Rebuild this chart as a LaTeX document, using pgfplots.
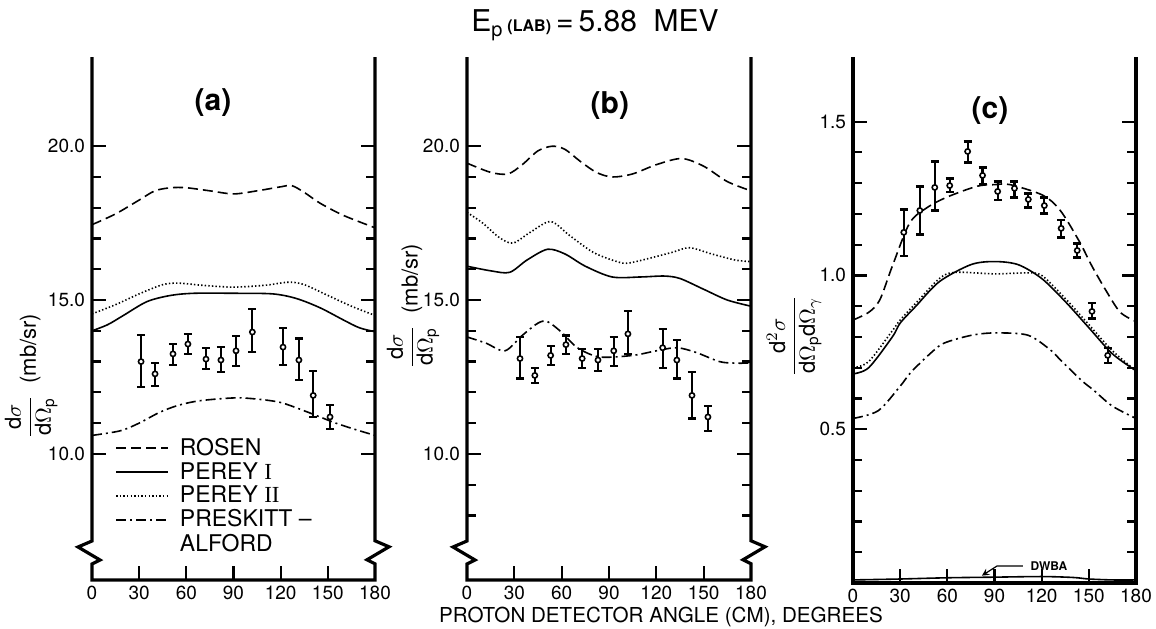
\documentclass[border=0pt]{standalone}
\usepackage{fontspec}
\setmainfont{TeX Gyre Heros}
\newfontfamily\numeral{Liberation Serif}
\usepackage{pgfplots}
\usepackage{pgfplotstable}
\pgfplotsset{compat=1.18}

% experimental points: angle, value, error up, error down
\pgfplotstableread{
x     y     ep    em
31.2  13.00 0.86  0.82
40.1  12.60 0.35  0.40
51.5  13.25 0.32  0.35
61.0  13.57 0.33  0.32
72.5  13.08 0.37  0.32
82.0  13.05 0.42  0.39
91.6  13.35 0.48  0.49
102.0 13.96 0.74  0.66
121.5 13.47 0.63  0.57
131.6 13.05 0.70  0.65
140.7 11.90 0.80  0.70
151.4 11.20 0.40  0.40
}\dataA

\pgfplotstableread{
x     y     ep    em
33.6  13.10 0.70  0.65
43.0  12.55 0.25  0.25
53.0  13.20 0.30  0.30
62.7  13.55 0.30  0.30
73.0  13.10 0.30  0.30
83.0  13.05 0.35  0.35
93.0  13.35 0.45  0.50
102.0 13.90 0.75  0.65
124.0 13.45 0.60  0.65
133.0 13.05 0.65  0.60
142.6 11.90 0.75  0.75
152.7 11.20 0.35  0.45
}\dataB

\pgfplotstableread{
x     y     ep    em
32.3  1.140 0.074 0.078
42.5  1.211 0.078 0.078
52.0  1.286 0.084 0.075
61.5  1.292 0.023 0.022
72.9  1.403 0.032 0.036
82.4  1.325 0.026 0.029
92.0  1.273 0.032 0.029
102.7 1.283 0.022 0.030
111.5 1.247 0.019 0.026
121.7 1.227 0.026 0.026
132.4 1.153 0.026 0.030
142.6 1.081 0.023 0.023
152.0 0.883 0.026 0.023
162.0 0.740 0.023 0.026
}\dataC

\pgfplotsset{
  panel/.style={
    scale only axis, anchor=south west,
    xmin=0, xmax=180, xtick={0,30,...,180},
    xtick pos=left, ytick pos=both, tick align=inside,
    major tick length=7pt, minor tick length=4.5pt,
    every tick/.append style={line width=1.1pt, black},
    axis line style={draw=none},
    tick label style={font=\fontsize{9.5}{9.5}\selectfont},
    xticklabel style={inner sep=0.5pt, yshift=-2.3pt},
    /pgf/number format/assume math mode=true,
    clip=false,
    label style={font=\fontsize{11}{11}\selectfont},
  },
  rosen/.style={black, line width=0.8pt, dash pattern=on 5pt off 2.5pt, smooth},
  pereyI/.style={black, line width=0.8pt, smooth},
  pereyII/.style={black, line width=0.8pt, dash pattern=on 0.7pt off 1.1pt, smooth},
  preskitt/.style={black, line width=0.8pt, dash pattern=on 5pt off 2pt on 1pt off 2pt, smooth},
  exp/.style={black, only marks, mark=*, mark size=1.3pt,
    mark options={line width=0.8pt, fill=white, draw=black},
    error bars/y dir=both, error bars/y explicit,
    error bars/error bar style={line width=1.1pt},
    error bars/error mark options={rotate=90, mark size=2pt, line width=1.1pt}},
}

\newcommand\brokenframe{%
  \draw[line width=1.6pt] (rel axis cs:0,1) -- (rel axis cs:0,0.0746)
    -- ++(-7pt,-3pt) -- ++(11pt,-6.5pt) -- ++(-4pt,-2pt)
    -- (rel axis cs:0,0) -- (rel axis cs:1,0) -- (rel axis cs:1,0.031)
    -- ++(-4pt,2pt) -- ++(11pt,6.5pt) -- ++(-7pt,3pt) -- (rel axis cs:1,1);}

\begin{document}
\begin{tikzpicture}
\useasboundingbox (0,0) rectangle (578pt,314pt);

% ---------------- (a)
\begin{axis}[panel, at={(46pt,24pt)}, width=141.5pt, height=261.5pt,
  ymin=5.9, ymax=22.9, ytick={10,15,20}, yticklabels={10.0,15.0,20.0},
  minor ytick={11,12,13,14,16,17,18,19},
  ylabel={$\displaystyle\frac{\mathrm{d}\sigma}{\mathrm{d}\Omega_{\mathrm{p}}}$\ \ (mb/sr)},
  ylabel style={at={(axis description cs:-0.215,0.39)}, anchor=center},
  legend style={draw=none, fill=none, at={(axis description cs:0.081,0.276)},
    anchor=north west, inner sep=0pt, row sep=0pt, column sep=4.5pt,
    font=\fontsize{11.5}{11.5}\selectfont, nodes={inner sep=1pt}},
  legend cell align=left,
  legend image code/.code={\draw[#1] (0pt,0pt) -- (26pt,0pt);},
]
\addplot[rosen] coordinates {(0,17.45)(15,17.8)(30,18.25)(40,18.55)(50,18.65)(60,18.65)(75,18.55)(90,18.45)(105,18.55)(120,18.68)(127,18.72)(135,18.5)(145,18.15)(160,17.75)(180,17.35)};
\addlegendentry{ROSEN}
\addplot[pereyI] coordinates {(0,14.0)(10,14.2)(20,14.5)(35,14.95)(50,15.15)(65,15.22)(90,15.22)(115,15.2)(130,15.05)(145,14.75)(160,14.35)(170,14.1)(180,13.97)};
\addlegendentry{PEREY {\numeral I}}
\addplot[pereyII] coordinates {(0,14.55)(15,14.85)(30,15.2)(45,15.5)(55,15.55)(70,15.48)(90,15.42)(110,15.48)(125,15.58)(135,15.5)(150,15.15)(165,14.8)(180,14.5)};
\addlegendentry{PEREY {\numeral II}}
\addplot[preskitt] coordinates {(0,10.6)(18,10.75)(30,11.0)(43,11.35)(55,11.58)(69,11.73)(91,11.82)(105,11.78)(120,11.67)(135,11.4)(145,11.2)(155,11.0)(167,10.8)(180,10.6)};
\addlegendentry{PRESKITT --}
\addlegendimage{empty legend}
\addlegendentry{\raisebox{-3.5pt}{ALFORD}}
\addplot[forget plot, exp] table[x=x, y=y, y error plus=ep, y error minus=em] {\dataA};
\brokenframe
\node[font=\fontsize{15}{15}\selectfont\bfseries] at (axis description cs:0.4276,0.912) {(a)};
\end{axis}

% ---------------- (b)
\begin{axis}[panel, at={(233.5pt,24pt)}, width=142pt, height=261.5pt,
  ymin=5.9, ymax=22.9, ytick={10,15,20}, yticklabels={10.0,15.0,20.0},
  minor ytick={8,9,11,12,13,14,16,17,18,19},
  ylabel={$\displaystyle\frac{\mathrm{d}\sigma}{\mathrm{d}\Omega_{\mathrm{p}}}$\ \ (mb/sr)},
  ylabel style={at={(axis description cs:-0.19,0.524)}, anchor=center},
]
\addplot[rosen] coordinates {(0,19.45)(15,19.15)(26,19.1)(35,19.4)(45,19.85)(54,20.0)(62,19.9)(72,19.5)(82,19.15)(92,19.0)(105,19.1)(120,19.4)(136,19.6)(150,19.35)(165,18.85)(180,18.55)};
\addplot[pereyII] coordinates {(0,17.85)(10,17.5)(20,17.05)(29,16.85)(40,17.2)(53,17.55)(65,17.1)(80,16.55)(95,16.25)(102,16.2)(115,16.35)(130,16.55)(141,16.7)(155,16.5)(170,16.3)(180,16.25)};
\addplot[pereyI] coordinates {(0,16.1)(15,15.95)(27,15.9)(38,16.3)(51,16.65)(62,16.5)(75,16.1)(92,15.75)(110,15.75)(125,15.78)(135,15.7)(150,15.35)(165,15.0)(180,14.8)};
\addplot[preskitt] coordinates {(0,13.8)(12,13.6)(24,13.35)(35,13.85)(45,14.25)(51,14.3)(60,13.95)(70,13.45)(84,13.15)(105,13.2)(120,13.35)(133,13.45)(145,13.3)(160,13.0)(170,12.95)(180,12.95)};
\addplot[exp] table[x=x, y=y, y error plus=ep, y error minus=em] {\dataB};
\brokenframe
\node[font=\fontsize{15}{15}\selectfont\bfseries] at (axis description cs:0.503,0.908) {(b)};
\end{axis}

% ---------------- (c)
\begin{axis}[panel, at={(426.5pt,22.5pt)}, width=141.5pt, height=263pt,
  ymin=0, ymax=1.71, ytick={0.5,1,1.5}, yticklabels={0.5,1.0,1.5},
  minor ytick={0.1,0.2,0.3,0.4,0.6,0.7,0.8,0.9,1.1,1.2,1.3,1.4},
  ylabel={$\displaystyle\frac{\mathrm{d}^2\sigma}{\mathrm{d}\Omega_{\mathrm{p}}\mathrm{d}\Omega_{\gamma}}$},
  ylabel style={at={(axis description cs:-0.208,0.47)}, anchor=center},
]
\addplot[rosen] coordinates {(0,0.855)(10,0.88)(17,0.92)(25,1.03)(36,1.17)(47,1.22)(60,1.255)(79,1.29)(90,1.295)(100,1.295)(121,1.26)(132,1.21)(144,1.11)(152,1.03)(161,0.95)(170,0.88)(180,0.85)};
\addplot[pereyI] coordinates {(0,0.68)(10,0.70)(25,0.80)(30,0.845)(40,0.90)(55,0.98)(75,1.035)(90,1.045)(105,1.035)(120,0.99)(135,0.915)(150,0.83)(165,0.745)(180,0.69)};
\addplot[pereyII] coordinates {(0,0.70)(10,0.72)(25,0.82)(30,0.855)(40,0.91)(55,0.99)(65,1.01)(90,1.005)(110,1.008)(120,1.0)(135,0.925)(150,0.84)(165,0.755)(180,0.69)};
\addplot[preskitt] coordinates {(0,0.535)(16,0.56)(30,0.64)(37,0.686)(50,0.75)(58,0.78)(75,0.805)(90,0.813)(111,0.806)(125,0.76)(132,0.725)(145,0.66)(153,0.627)(165,0.575)(180,0.535)};
\addplot[pereyI] coordinates {(0,0.010)(30,0.013)(60,0.017)(90,0.019)(120,0.021)(140,0.018)(150,0.013)(165,0.010)(180,0.010)};
\addplot[exp] table[x=x, y=y, y error plus=ep, y error minus=em] {\dataC};
\draw[line width=1.6pt] (rel axis cs:0,1) -- (rel axis cs:0,0) -- (rel axis cs:1,0) -- (rel axis cs:1,1);
\draw[line width=0.6pt, -stealth] (axis cs:108,0.055) -- (axis cs:91.5,0.055) -- (axis cs:82,0.024);
\node[font=\fontsize{6}{6}\selectfont\bfseries, anchor=west] at (axis cs:108.5,0.055) {DWBA};
\node[font=\fontsize{15}{15}\selectfont\bfseries] at (axis description cs:0.484,0.899) {(c)};
\end{axis}

\node[font=\fontsize{15}{15}\selectfont] at (297.5pt,301.5pt)
  {E\raisebox{-0.35ex}{\fontsize{10}{10}\selectfont p}\,{\fontsize{8}{8}\selectfont\bfseries(LAB)}\,=\,5.88\ \ MEV};
\node[font=\fontsize{10.3}{10.3}\selectfont, inner sep=0.5pt] at (330.5pt,5.5pt) {PROTON DETECTOR ANGLE (CM), DEGREES};
\end{tikzpicture}
\end{document}
